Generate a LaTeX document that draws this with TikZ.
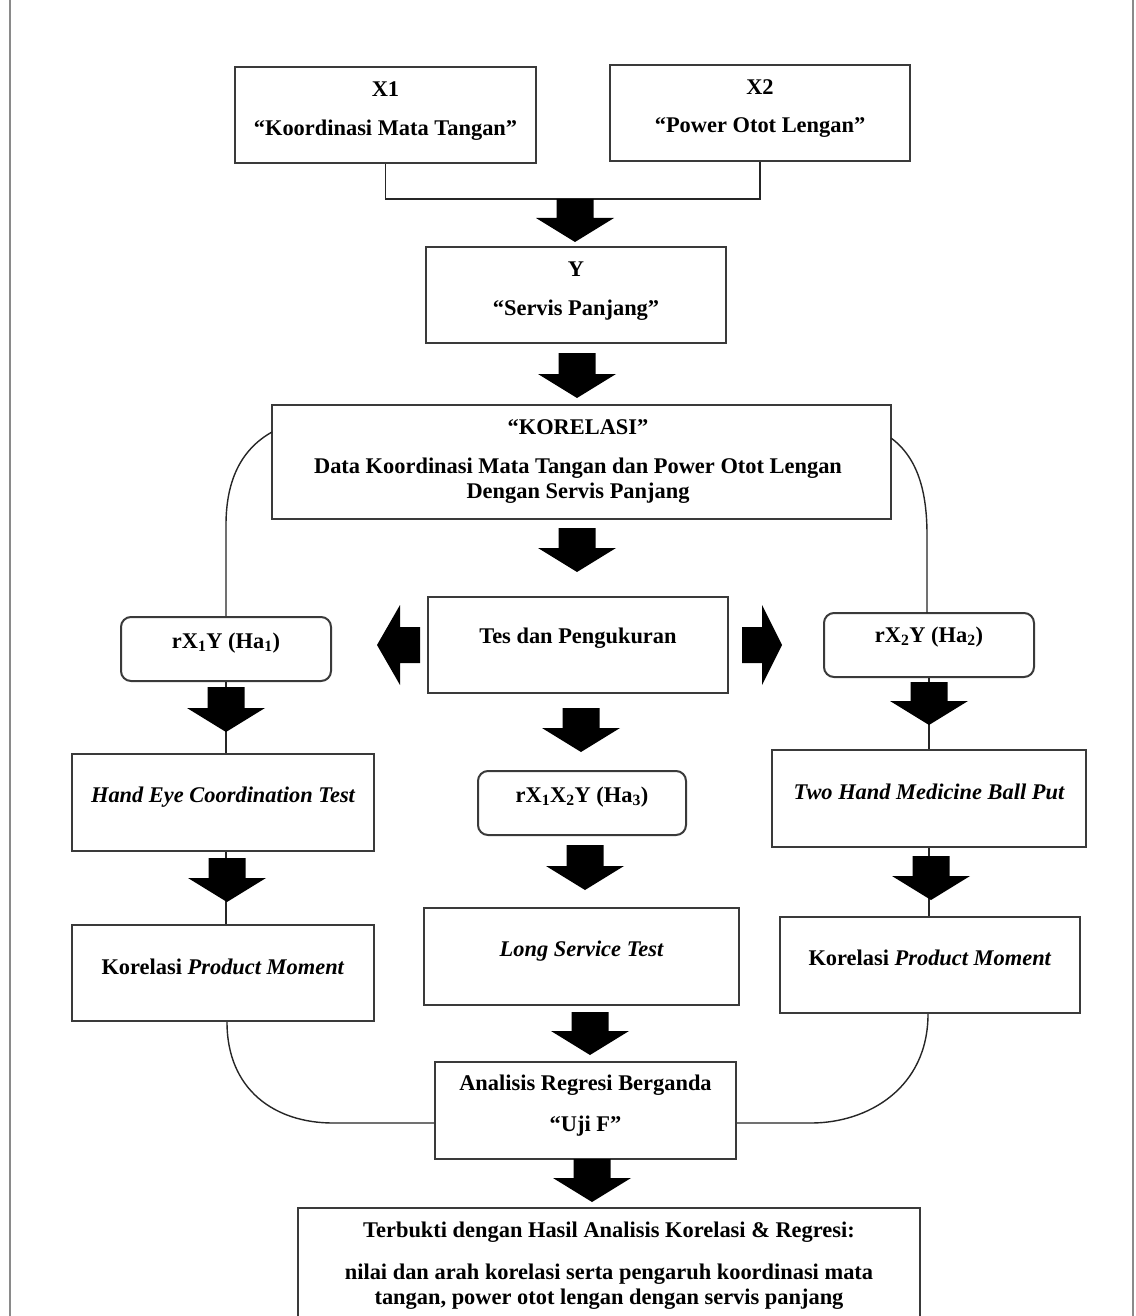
\documentclass[tikz,border=0pt]{standalone}
\usepackage{fontspec}
\setmainfont{Liberation Serif}
\definecolor{boxline}{HTML}{3A3A3A}
\definecolor{edgegray}{HTML}{8A8A8A}
\newcommand\dnarr[3]{\fill[black] (#1-18.5,#2) -- (#1+18.5,#2) -- (#1+18.5,#3-24) -- (#1+39,#3-24) -- (#1,#3) -- (#1-39,#3-24) -- (#1-18.5,#3-24) -- cycle;}
\tikzset{
  box/.style={draw=boxline, line width=2bp, fill=white, inner sep=0pt, minimum width=#1},
  rbox/.style={box=#1, rounded corners=10bp},
  txt/.style={font=\bfseries\fontsize{22.5}{25}\selectfont, inner sep=0pt, align=center},
  conn/.style={draw=black!85, line width=1.4bp},
}
\begin{document}
\begin{tikzpicture}[x=1bp,y=-1bp]
\clip (0,0) rectangle (1135,1316);
\fill[white] (0,0) rectangle (1135,1316);
% page edges
\draw[edgegray, line width=2bp] (10,0) -- (10,1316);
\draw[edgegray, line width=2bp] (1133,0) -- (1133,1316);

% ---------- boxes ----------
\node[box=301bp, minimum height=96bp] (x1) at (385.5,115) {};
\node[box=300bp, minimum height=96bp] (x2) at (760,113) {};
\node[box=300bp, minimum height=96bp] (y) at (576,295) {};
\node[box=619bp, minimum height=114bp] (kor) at (581.5,462) {};
\node[box=300bp, minimum height=96bp] (tes) at (578,645) {};
\node[rbox=210bp, minimum height=64bp] (r1) at (226,649) {};
\node[rbox=210bp, minimum height=64bp] (r2) at (929,645) {};
\node[box=302bp, minimum height=97bp] (he) at (223,802.5) {};
\node[rbox=208bp, minimum height=64bp] (r3) at (582,803) {};
\node[box=314bp, minimum height=97bp] (th) at (929,798.5) {};
\node[box=302bp, minimum height=96bp] (kpm1) at (223,973) {};
\node[box=315bp, minimum height=97bp] (lst) at (581.5,956.5) {};
\node[box=300bp, minimum height=96bp] (kpm2) at (930,965) {};
\node[box=301bp, minimum height=97bp] (ana) at (585.5,1110.5) {};
\node[box=622bp, minimum height=122bp] (fin) at (609,1269) {};

% ---------- texts ----------
\node[txt] (tx1a) at (385.5,89) {X1};
\node[txt] (tx1b) at (385.5,130) {“Koordinasi Mata Tangan”};
\node[txt] (tx2a) at (760,87) {X2};
\node[txt] (tx2b) at (760,128) {“Power Otot Lengan”};
\node[txt] (tya) at (576,269) {Y};
\node[txt] (tyb) at (576,310) {“Servis Panjang”};
\node[txt] (tkora) at (578,427) {“KORELASI”};
\node[txt] (tkorb) at (578,481) {Data Koordinasi Mata Tangan dan Power Otot Lengan\\Dengan Servis Panjang};
\node[txt] (ttes) at (578,638) {Tes dan Pengukuran};
\node[txt] (tr1) at (226,643) {rX\textsubscript{1}Y (Ha\textsubscript{1})};
\node[txt] (tr2) at (929,637) {rX\textsubscript{2}Y (Ha\textsubscript{2})};
\node[txt] (the) at (223,797) {\itshape Hand Eye Coordination Test};
\node[txt] (tr3) at (582,797) {rX\textsubscript{1}X\textsubscript{2}Y (Ha\textsubscript{3})};
\node[txt] (tth) at (929,792) {\itshape Two Hand Medicine Ball Put};
\node[txt] (tkpm1) at (223,967) {Korelasi \textit{Product Moment}};
\node[txt] (tlst) at (581.5,951) {\itshape Long Service Test};
\node[txt] (tkpm2) at (930,958) {Korelasi \textit{Product Moment}};
\node[txt] (tanaa) at (585.5,1085) {Analisis Regresi Berganda};
\node[txt] (tanab) at (585.5,1126) {“Uji F”};
\node[txt] (tfina) at (609,1232) {Terbukti dengan Hasil Analisis Korelasi \& Regresi:};
\node[txt] (tfinb) at (609,1287) {nilai dan arah korelasi serta pengaruh koordinasi mata\\tangan, power otot lengan dengan servis panjang};

% ---------- connectors ----------
\coordinate (j) at (575,199);
\draw[conn] (x1.south) -- (x1.south |- j) -- (x2.south |- j) -- (x2.south);

\coordinate (kl) at (272,432);
\coordinate (kr) at (891,438);
\draw[conn] (kl) .. controls (240,450) and (226,482) .. (226,525) -- (r1.north);
\draw[conn] (kr) .. controls (918,458) and (927,492) .. (927,535) -- (927,613);

\draw[conn] (r1.south) -- (r1.south |- he.north);
\draw[conn] (he.south -| r1.south) -- (r1.south |- kpm1.north);
\draw[conn] (r2.south) -- (r2.south |- th.north);
\draw[conn] (th.south -| r2.south) -- (r2.south |- kpm2.north);

\coordinate (bl) at (333,1123);
\coordinate (br) at (811,1123);
\draw[conn] (kpm1.south -| 227,0) .. controls (227,1090) and (275,1123) .. (bl) -- (ana.west |- bl);
\draw[conn] (kpm2.south -| 928,0) .. controls (928,1088) and (868,1123) .. (br) -- (ana.east |- br);

% ---------- block arrows ----------
\dnarr{575}{199}{242}
\dnarr{577}{353}{398}
\dnarr{577}{528}{572}
\dnarr{581}{708}{752}
\dnarr{585}{845}{890}
\dnarr{590}{1012}{1055}
\dnarr{592}{1159}{1202}
\dnarr{226}{687}{732}
\dnarr{227}{858}{902}
\dnarr{929}{682}{725}
\dnarr{931}{856}{900}
% side arrows
\fill[black] (420,627) -- (400,627) -- (400,605) -- (377,645) -- (400,685) -- (400,663) -- (420,663) -- cycle;
\fill[black] (742,627) -- (762,627) -- (762,605) -- (782,645) -- (762,685) -- (762,663) -- (742,663) -- cycle;
\end{tikzpicture}
\end{document}
